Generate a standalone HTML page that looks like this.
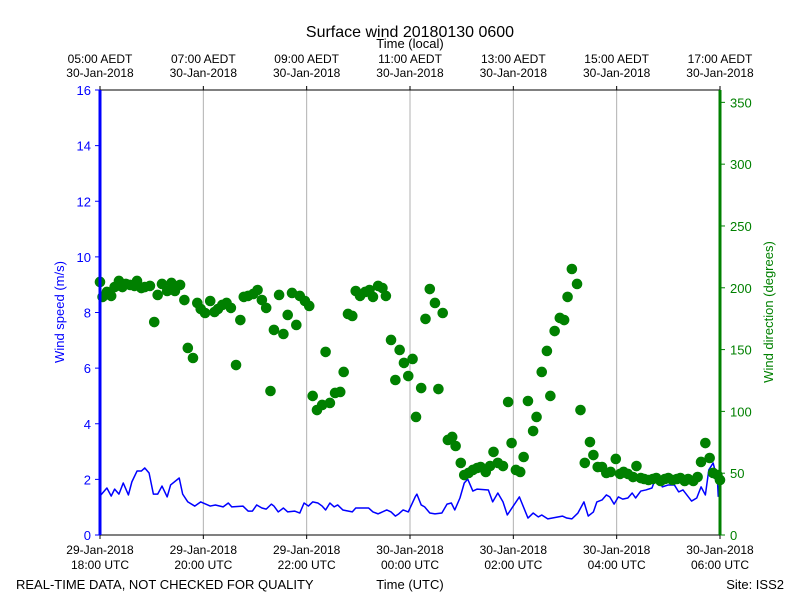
<!DOCTYPE html>
<html><head><meta charset="utf-8"><style>
body{margin:0;background:#fff;}
svg text{font-family:"Liberation Sans","DejaVu Sans",sans-serif;}
</style></head><body>
<svg id="chart" width="800" height="600" xmlns="http://www.w3.org/2000/svg">
<rect width="800" height="600" fill="#fff"/>
<text x="410" y="37" font-size="16" text-anchor="middle">Surface wind 20180130 0600</text>
<text x="410" y="48" font-size="13" text-anchor="middle">Time (local)</text>
<text transform="translate(64,312) rotate(-90)" font-size="13" fill="#0000ff" text-anchor="middle">Wind speed (m/s)</text>
<text transform="translate(773,312) rotate(-90)" font-size="13" fill="#008000" text-anchor="middle">Wind direction (degrees)</text>
<text x="16" y="589" font-size="13">REAL-TIME DATA, NOT CHECKED FOR QUALITY</text>
<text x="410" y="589" font-size="13" text-anchor="middle">Time (UTC)</text>
<text x="784" y="589" font-size="13" text-anchor="end">Site: ISS2</text>
<g id="grid"></g><g id="marks"></g><g id="axes"></g>
</svg>
<script>
const utcLabels=["29-Jan-2018|18:00 UTC","29-Jan-2018|20:00 UTC","29-Jan-2018|22:00 UTC","30-Jan-2018|00:00 UTC","30-Jan-2018|02:00 UTC","30-Jan-2018|04:00 UTC","30-Jan-2018|06:00 UTC"];
const localLabels=["05:00 AEDT|30-Jan-2018","07:00 AEDT|30-Jan-2018","09:00 AEDT|30-Jan-2018","11:00 AEDT|30-Jan-2018","13:00 AEDT|30-Jan-2018","15:00 AEDT|30-Jan-2018","17:00 AEDT|30-Jan-2018"];
const speedTicks=[0,2,4,6,8,10,12,14,16];
const dirTicks=[0,50,100,150,200,250,300,350];
const speedMinutes=[1,8,13,17,22,27,33,37,43,48,52,57,62,67,72,78,82,92,96,102,110,117,128,134,143,149,153,166,172,177,182,188,193,199,202,207,213,218,226,232,237,242,247,253,258,262,267,272,276,282,293,297,312,317,323,333,338,343,347,352,358,366,368,373,377,383,389,397,403,408,412,418,423,427,433,438,451,456,462,468,473,487,497,503,509,513,520,537,542,548,555,562,567,573,577,583,588,592,597,602,607,613,618,622,628,634,641,647,653,660,667,672,677,687,693,698,703,707,712,717,718];
const speedValues=[1.44,1.69,1.40,1.65,1.47,1.87,1.44,1.91,2.30,2.30,2.41,2.23,1.47,1.47,1.76,1.37,1.80,2.05,1.47,1.19,1.04,1.19,1.04,1.08,1.01,1.15,1.01,1.04,0.86,0.86,1.08,0.97,0.93,1.11,1.04,0.83,0.97,0.83,0.86,0.79,1.15,1.04,1.19,1.15,1.04,0.90,1.15,1.01,1.08,0.90,0.83,0.97,0.97,0.83,0.76,0.90,0.83,0.68,0.76,0.90,0.83,1.37,1.47,1.08,1.01,0.79,0.76,0.79,1.11,1.15,0.90,1.33,1.87,2.01,1.58,1.65,1.62,1.19,1.51,1.19,0.72,1.37,0.61,0.79,0.65,0.72,0.58,0.68,0.61,0.58,0.79,1.19,0.68,0.83,1.19,1.26,1.44,1.37,1.11,1.37,1.29,1.33,1.51,1.33,1.58,1.62,1.69,2.19,1.73,1.80,1.80,1.55,1.62,1.22,1.33,1.73,1.44,2.34,2.59,1.98,1.37];
const dirMinutes=[0,3,8,13,17,22,26,30,35,40,43,48,52,58,63,67,72,78,83,87,93,98,102,108,113,117,122,128,133,137,142,147,152,158,163,167,172,178,183,188,193,198,202,208,213,218,223,228,232,238,243,247,252,258,262,267,273,279,283,288,293,297,302,308,313,317,323,328,332,338,343,348,353,358,363,367,373,378,383,389,393,398,404,409,413,419,423,428,433,438,442,448,453,457,462,468,474,478,483,488,492,497,503,507,513,519,523,528,534,539,543,548,554,558,563,569,573,578,583,588,593,599,604,608,613,619,623,628,632,637,642,646,651,656,660,665,670,674,679,683,689,694,698,703,708,712,717,720];
const dirValues=[204.7,192.6,196.6,193.4,200.6,205.5,200.6,203.1,202.3,201.5,205.5,199.8,200.6,201.5,172.3,194.2,203.1,197.4,203.9,197.4,202.3,190.1,151.3,143.2,187.7,182.8,179.6,189.3,180.4,182.8,186.1,187.7,183.7,137.5,173.9,192.6,193.4,195,198.2,190.1,183.7,116.5,165.9,194.2,162.6,178,195.8,169.9,193.4,189.3,185.3,112.5,101.1,105.2,148.1,106.8,114.9,115.7,131.9,178.8,177.2,197.4,193.4,196.6,198.2,192.6,201.5,199.8,193.4,157.8,125.4,149.7,139.2,128.6,142.4,95.5,118.9,174.8,199,187.7,118.1,179.6,76.9,79.3,72,58.3,48.5,50.2,52.6,54.2,55,51,55.8,67.2,58.3,55.8,107.6,74.4,52.6,51,63.1,108.4,84.1,95.5,131.9,148.9,112.5,165,175.6,173.9,192.6,215.2,203.1,101.1,58.3,75.2,64.7,55,55,50.2,51,61.5,49.4,51,49.4,46.9,55.8,46.1,45.3,44.5,45.3,46.1,43.7,45.3,46.1,44.5,45.3,46.1,43.7,45.3,43.7,46.9,59.1,74.4,62.3,50.2,48.5,44.5];

const NS="http://www.w3.org/2000/svg";
const PL=100,PR=720,PT=90,PB=535;
const xS=m=>PL+(PR-PL)*m/720;
const yS=v=>PB-(PB-PT)*v/16;
const yD=v=>PB-(PB-PT)*v/360;
function mk(tag,attrs,parent,text){const e=document.createElementNS(NS,tag);for(const k in attrs)e.setAttribute(k,attrs[k]);if(text!==undefined)e.textContent=text;parent.appendChild(e);return e;}
const gridG=document.getElementById('grid'),marksG=document.getElementById('marks'),axesG=document.getElementById('axes');
utcLabels.forEach((lab,i)=>{
  const x=xS(i*120);
  if(i>0&&i<6){const g=mk('line',{x1:x,x2:x,y1:PT,y2:PB,stroke:'#b0b0b0','stroke-width':1},gridG);
  
  }
  const tb=mk('line',{x1:x,x2:x,y1:PB,y2:PB+4,stroke:'#000'},axesG);
  
  
  const tt=mk('line',{x1:x,x2:x,y1:PT,y2:PT-4,stroke:'#000'},axesG);
  
  
  const p=lab.split('|');
  const t1=mk('text',{x:x,y:554,'font-size':12,'text-anchor':'middle'},axesG,p[0]);
  
  
  const t2=mk('text',{x:x,y:569,'font-size':12,'text-anchor':'middle'},axesG,p[1]);
  
  
  const q=localLabels[i].split('|');
  const t3=mk('text',{x:x,y:63,'font-size':12,'text-anchor':'middle'},axesG,q[0]);
  
  
  const t4=mk('text',{x:x,y:77,'font-size':12,'text-anchor':'middle'},axesG,q[1]);
  
  
});
const pts=speedMinutes.map((m,i)=>xS(m)+','+yS(speedValues[i])).join(' ');
const pl=mk('polyline',{points:pts,fill:'none',stroke:'#0000ff','stroke-width':1.5,'stroke-linejoin':'round'},marksG);


const nDir=Math.min(dirMinutes.length,dirValues.length);
for(let i=0;i<nDir;i++){
  const c=mk('circle',{cx:xS(dirMinutes[i]),cy:yD(dirValues[i]),r:5.3,fill:'#008000'},marksG);
  
  
}
const topSpine=mk('line',{x1:PL,x2:PR,y1:PT,y2:PT,stroke:'#000'},axesG);


const botSpine=mk('line',{x1:PL,x2:PR,y1:PB,y2:PB,stroke:'#000'},axesG);


const leftSpine=mk('line',{x1:PL,x2:PL,y1:PT,y2:PB,stroke:'#0000ff','stroke-width':3},axesG);


const rightSpine=mk('line',{x1:PR,x2:PR,y1:PT,y2:PB,stroke:'#008000','stroke-width':3},axesG);


speedTicks.forEach(v=>{
  const y=yS(v);
  const t=mk('line',{x1:PL-5,x2:PL,y1:y,y2:y,stroke:'#0000ff'},axesG);
  
  
  const l=mk('text',{x:PL-9,y:y+5,'font-size':13,fill:'#0000ff','text-anchor':'end'},axesG,v);
  
  
});
dirTicks.forEach(v=>{
  const y=yD(v);
  const t=mk('line',{x1:PR,x2:PR+5,y1:y,y2:y,stroke:'#008000'},axesG);
  
  
  const l=mk('text',{x:PR+10,y:y+5,'font-size':13,fill:'#008000'},axesG,v);
  
  
});
</script>
</body></html>
